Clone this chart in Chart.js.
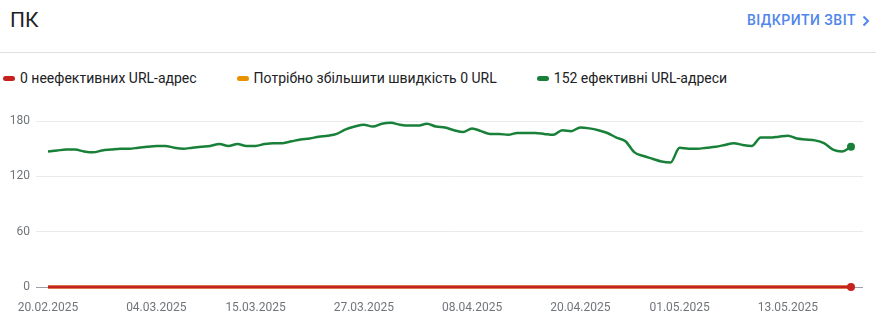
<!DOCTYPE html>
<html>
<head>
<meta charset="utf-8">
<script src="https://cdn.jsdelivr.net/npm/chart.js@4"></script>
<style>
  body { margin: 0; background: #fff; font-family: Roboto, "Noto Sans", sans-serif; }
  #wrap { position: relative; width: 876px; height: 324px; overflow: hidden; }
  #title { position: absolute; left: 10px; top: 5px; font-size: 21px; line-height: 30px; color: #202124; }
  #link { position: absolute; right: 6px; top: 8px; font-size: 14px; line-height: 24px; font-weight: 500; color: #4f86ec; letter-spacing: 0.5px; }
  #link svg { vertical-align: -2px; margin-left: 6px; }
  #sep { position: absolute; left: 0; right: 0; top: 52px; height: 1px; background: #e0e0e0; }
  #legend { position: absolute; left: 3px; top: 67px; display: flex; font-size: 14px; line-height: 22px; color: #202124; }
  .item { display: flex; align-items: center; margin-right: 40px; }
  .mark { width: 12px; height: 5px; border-radius: 3px; margin-right: 5px; }
  #box { position: absolute; left: 0; top: 96px; width: 876px; height: 228px; }
</style>
</head>
<body>
<div id="wrap">
  <div id="title">ПК</div>
  <div id="link">ВІДКРИТИ ЗВІТ<svg width="8" height="12" viewBox="0 0 8 12"><polyline points="1.5,1.5 6,6 1.5,10.5" fill="none" stroke="#4f86ec" stroke-width="2"/></svg></div>
  <div id="sep"></div>
  <div id="legend"></div>
  <div id="box"><canvas id="graph"></canvas></div>
</div>
<script>
// noms des series et couleurs
var seriesNames = ['0 неефективних URL-адрес', 'Потрібно збільшити швидкість 0 URL', '152 ефективні URL-адреси'];
var seriesColors = ['#c5221f', '#ea9100', '#188038'];

// valeurs par jour (20.02.2025 -> 20.05.2025)
var poor = [0,0,0,0,0,0,0,0,0,0, 0,0,0,0,0,0,0,0,0,0, 0,0,0,0,0,0,0,0,0,0,
            0,0,0,0,0,0,0,0,0,0, 0,0,0,0,0,0,0,0,0,0, 0,0,0,0,0,0,0,0,0,0,
            0,0,0,0,0,0,0,0,0,0, 0,0,0,0,0,0,0,0,0,0, 0,0,0,0,0,0,0,0,0,0];
var needsWork = [0,0,0,0,0,0,0,0,0,0, 0,0,0,0,0,0,0,0,0,0, 0,0,0,0,0,0,0,0,0,0,
                 0,0,0,0,0,0,0,0,0,0, 0,0,0,0,0,0,0,0,0,0, 0,0,0,0,0,0,0,0,0,0,
                 0,0,0,0,0,0,0,0,0,0, 0,0,0,0,0,0,0,0,0,0, 0,0,0,0,0,0,0,0,0,0];
var good = [147,148,149,149,147,146,148,149,150,150,
            151,152,153,153,151,150,151,152,153,155,
            153,155,153,153,155,156,156,158,160,161,
            163,164,166,171,174,176,174,177,178,176,
            175,175,177,174,173,170,168,172,169,166,
            166,165,167,167,167,166,165,170,169,173,
            172,170,167,162,158,146,142,139,136,135,
            151,150,150,151,152,154,156,154,153,162,
            162,163,164,161,160,159,156,149,147,152];

// etiquettes de l'axe x (index du jour -> date)
var tickIdx = [0, 12, 23, 35, 47, 59, 70, 82];
var tickLabels = ['20.02.2025', '04.03.2025', '15.03.2025', '27.03.2025', '08.04.2025', '20.04.2025', '01.05.2025', '13.05.2025'];
var yTicks = [0, 60, 120, 180];

// legende en html
var legend = document.getElementById('legend');
seriesNames.forEach(function(name, i) {
    var it = document.createElement('div');
    it.className = 'item';
    it.innerHTML = '<span class="mark" style="background:' + seriesColors[i] + '"></span>' + name;
    legend.appendChild(it);
});

var toPoints = function(arr) {
    return arr.map(function(v, i) { return { x: i, y: v }; });
};
var lastDot = function(arr) {
    return function(ctx) { return ctx.dataIndex === arr.length - 1 ? 4 : 0; };
};

var datasets = [poor, needsWork, good].map(function(arr, i) {
    return {
        label: seriesNames[i],
        data: toPoints(arr),
        borderColor: seriesColors[i],
        backgroundColor: seriesColors[i],
        borderWidth: (i === 2) ? 2.5 : 3,
        pointRadius: (i === 1) ? 0 : lastDot(arr),
        pointHoverRadius: 0,
        pointBorderWidth: 0,
        cubicInterpolationMode: 'monotone',
        tension: 0.3,
        clip: false,
        fill: false
    };
});

var ctx = document.getElementById('graph').getContext('2d');
window.myChart = new Chart(ctx, {
    type: 'line',
    data: { datasets: datasets },
    options: {
        responsive: true,
        maintainAspectRatio: false,
        animation: false,
        layout: { padding: { top: 25, right: 13, left: 0, bottom: 0 } },
        plugins: { legend: { display: false }, tooltip: { enabled: false } },
        scales: {
            x: {
                type: 'linear',
                min: -1.33,
                max: 90.33,
                grid: { display: false, drawTicks: false },
                border: { display: false },
                afterBuildTicks: function(scale) {
                    scale.ticks = tickIdx.map(function(v) { return { value: v }; });
                },
                afterFit: function(scale) { scale.height = 37; },
                ticks: {
                    autoSkip: false,
                    maxRotation: 0,
                    padding: 14,
                    color: '#70757a',
                    font: { family: 'Roboto', size: 12 },
                    callback: function(v) {
                        var k = tickIdx.indexOf(v);
                        return k >= 0 ? tickLabels[k] : '';
                    }
                }
            },
            y: {
                min: 0,
                max: 180,
                border: { display: false },
                grid: {
                    drawTicks: false,
                    lineWidth: 1,
                    color: function(c) { return c.tick && c.tick.value === 0 ? '#9aa0a6' : '#e8eaed'; }
                },
                afterBuildTicks: function(scale) {
                    scale.ticks = yTicks.map(function(v) { return { value: v }; });
                },
                afterFit: function(scale) { scale.width = 36; },
                ticks: {
                    padding: 6,
                    color: '#70757a',
                    font: { family: 'Roboto', size: 12 }
                }
            }
        }
    }
});
</script>
</body>
</html>
